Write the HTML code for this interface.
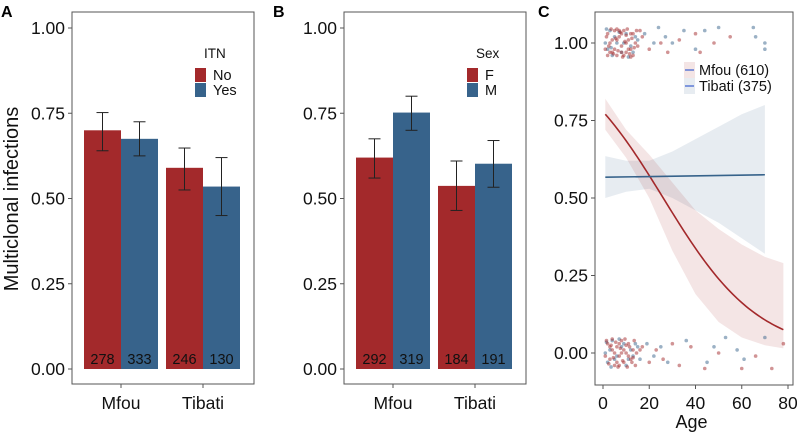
<!DOCTYPE html>
<html><head><meta charset="utf-8"><style>
body{margin:0;background:#fff}
svg{font-family:"Liberation Sans",sans-serif}
</style></head><body>
<svg id="chart" width="797" height="433" viewBox="0 0 797 433" xmlns="http://www.w3.org/2000/svg"></svg>
<script>
const groups=["Mfou","Tibati"];
const itnLabels=["No","Yes"];
const itnValues=[[0.70,0.675],[0.59,0.535]];
const itnLow=[[0.64,0.625],[0.525,0.45]];
const itnHigh=[[0.752,0.725],[0.648,0.62]];
const itnN=[[278,333],[246,130]];
const sexLabels=["F","M"];
const sexValues=[[0.62,0.752],[0.537,0.602]];
const sexLow=[[0.56,0.70],[0.465,0.533]];
const sexHigh=[[0.675,0.80],[0.61,0.67]];
const sexN=[[292,319],[184,191]];
const yTicks=["0.00","0.25","0.50","0.75","1.00"];
const ageTicks=[0,20,40,60,80];
const mfouCoef=[1.258,-0.0483];
const mfouRibAge=[1,10,20,30,40,50,60,70,78];
const mfouRibLo=[0.72,0.63,0.50,0.33,0.19,0.10,0.05,0.025,0.015];
const mfouRibHi=[0.82,0.72,0.64,0.55,0.46,0.40,0.35,0.31,0.29];
const tibLine=[[1,0.567],[70,0.575]];
const tibRibAge=[1,10,20,30,40,50,60,70];
const tibRibLo=[0.50,0.52,0.53,0.50,0.46,0.42,0.37,0.32];
const tibRibHi=[0.635,0.62,0.62,0.65,0.69,0.73,0.77,0.80];
const mfouPts1=[[2,1.03],[3,0.97],[4,1.01],[5,1.04],[6,0.96],[7,1.02],[8,0.99],[9,1.04],[10,0.97],[11,1.01],[12,1.03],[13,0.96],[14,1.0],[3,1.0],[5,0.98],[7,1.04],[9,0.96],[11,0.98],[2,0.96],[6,1.01],[8,1.03],[10,1.0],[12,0.98],[4,0.97],[13,1.03],[1.5,1.02],[2.5,0.99],[3.5,1.045],[4.5,0.965],[5.5,1.015],[6.5,0.975],[7.5,1.035],[8.5,0.955],[9.5,1.005],[10.5,1.045],[11.5,0.965],[12.5,1.015],[13.5,0.985],[14.5,1.04],[1,0.98],[6,1.045],[8,0.97],[10,1.025],[12,0.955],[15,0.99],[16,1.04],[17,1.02],[20,0.98],[25,1.0],[28,0.97],[33,1.01],[40,1.03],[42,0.97],[48,1.0],[55,1.02]];
const mfouPts0=[[2,0.03],[3,-0.02],[4,0.01],[5,-0.04],[6,0.02],[7,-0.01],[8,0.04],[9,-0.03],[10,0.0],[11,0.03],[12,-0.02],[13,0.01],[14,-0.04],[3,0.02],[5,0.0],[7,0.03],[9,0.01],[11,-0.01],[6,-0.03],[8,0.0],[1.5,0.04],[2.5,-0.035],[3.5,0.025],[4.5,-0.015],[5.5,0.035],[6.5,-0.045],[7.5,0.015],[8.5,-0.025],[9.5,0.045],[10.5,-0.045],[11.5,0.02],[12.5,-0.03],[13.5,0.04],[14.5,0.0],[1,-0.01],[4,0.045],[7,-0.04],[10,0.025],[13,-0.015],[16,0.01],[17,0.02],[20,-0.03],[23,0.01],[26,-0.02],[30,0.03],[33,-0.04],[38,0.02],[44,-0.05],[50,0.0],[60,-0.05],[66,-0.01],[73,-0.05],[78,0.03]];
const tibPts1=[[1,1.0],[3,1.04],[4,0.96],[6,1.0],[8,0.97],[10,1.03],[12,0.99],[14,1.02],[2,0.98],[5,1.02],[9,1.0],[13,0.97],[1.5,1.045],[3.5,0.985],[7,1.035],[11,0.955],[15,1.01],[18,1.03],[22,1.0],[24,1.05],[27,1.02],[30,1.0],[35,1.04],[40,0.98],[44,1.04],[50,1.05],[65,1.05],[66,1.02],[70,1.0],[70,0.98]];
const tibPts0=[[1,0.0],[2,-0.03],[4,0.04],[6,-0.01],[8,0.02],[10,-0.04],[12,0.01],[14,0.03],[3,0.01],[5,-0.02],[9,0.03],[13,-0.01],[1.5,0.035],[3.5,-0.045],[7,0.045],[11,-0.02],[15,0.02],[16,-0.02],[19,0.03],[22,-0.01],[25,0.02],[28,-0.03],[36,0.04],[45,-0.03],[48,0.02],[53,0.05],[58,0.01],[61,-0.02],[70,0.05]];
const RED="#a3292b",BLUE="#37638b";
const svg=document.getElementById('chart');
const NS="http://www.w3.org/2000/svg";
function mk(tag,attrs,parent,txt){const e=document.createElementNS(NS,tag);for(const k in attrs)e.setAttribute(k,attrs[k]);if(txt!==undefined)e.textContent=txt;(parent||svg).appendChild(e);return e;}

function barPanel(px0,label,legTitle,legLabels,vals,lo,hi,ns,nameKey){
  const g=mk('g',{});
  
  
  const left=px0,right=px0+182,top=12,bottom=384;
  const y=v=>369-v*341;
  const gc=[px0+49,px0+131],bw=37;
  const box=mk('rect',{x:left,y:top,width:right-left,height:bottom-top,fill:'none',stroke:'#555','stroke-width':1},g);
  
  
  const pl=mk('text',{x:px0-71,y:17,'font-size':16,'font-weight':'bold'},g,label);
  
  
  yTicks.forEach((t,i)=>{const v=i*0.25;
    mk('line',{x1:left-4,x2:left,y1:y(v),y2:y(v),stroke:'#555'},g);
    const tl=mk('text',{x:left-7,y:y(v)+6,'font-size':17.5,'text-anchor':'end',fill:'#111'},g,t);
    
    });
  groups.forEach((gr,gi)=>{
    mk('line',{x1:gc[gi],x2:gc[gi],y1:bottom,y2:bottom+4,stroke:'#555'},g);
    const xl=mk('text',{x:gc[gi],y:409,'font-size':17.5,'text-anchor':'middle',fill:'#111'},g,gr);
    
    
    [0,1].forEach(k=>{
      const x0=gc[gi]-bw+k*bw;
      const b=mk('rect',{x:x0,y:y(vals[gi][k]),width:bw,height:y(0)-y(vals[gi][k]),fill:k?BLUE:RED},g);
      
      
      const cx=x0+bw/2;
      mk('line',{x1:cx,x2:cx,y1:y(hi[gi][k]),y2:y(lo[gi][k]),stroke:'#222'},g);
      mk('line',{x1:cx-6,x2:cx+6,y1:y(hi[gi][k]),y2:y(hi[gi][k]),stroke:'#222'},g);
      mk('line',{x1:cx-6,x2:cx+6,y1:y(lo[gi][k]),y2:y(lo[gi][k]),stroke:'#222'},g);
      const nt=mk('text',{x:cx,y:364,'font-size':14.5,'text-anchor':'middle',fill:'#111'},g,ns[gi][k]);
      
      
    });
  });
  const lt=mk('text',{x:px0+132,y:58,'font-size':13.5,fill:'#111'},g,legTitle);
  
  
  legLabels.forEach((l,k)=>{
    const r=mk('rect',{x:px0+123,y:68+k*15,width:11,height:14,fill:k?BLUE:RED},g);
    
    
    const t=mk('text',{x:px0+141,y:80+k*15,'font-size':14.5,fill:'#111'},g,l);
    
    
  });
}
barPanel(72,'A','ITN',itnLabels,itnValues,itnLow,itnHigh,itnN,'itn');
barPanel(344,'B','Sex',sexLabels,sexValues,sexLow,sexHigh,sexN,'sex');

const yt=mk('text',{x:0,y:0,'font-size':20,'text-anchor':'middle',fill:'#111',transform:'translate(18,199) rotate(-90)'},svg,'Multiclonal infections');



const gC=mk('g',{});


const cx=a=>603+a*(185/80), cy=v=>353-v*310;
const cb=mk('rect',{x:595,y:12,width:198,height:373,fill:'none',stroke:'#555'},gC);


const pc=mk('text',{x:538,y:17,'font-size':16,'font-weight':'bold'},gC,'C');


yTicks.forEach((t,i)=>{const v=i*0.25;
  mk('line',{x1:591,x2:595,y1:cy(v),y2:cy(v),stroke:'#555'},gC);
  const tl=mk('text',{x:588,y:cy(v)+6,'font-size':17.5,'text-anchor':'end',fill:'#111'},gC,t);
  
  });
ageTicks.forEach(a=>{
  mk('line',{x1:cx(a),x2:cx(a),y1:385,y2:389,stroke:'#555'},gC);
  const tl=mk('text',{x:cx(a),y:409,'font-size':17.5,'text-anchor':'middle',fill:'#111'},gC,a);
  
  });
const at=mk('text',{x:cx(40)-4,y:428,'font-size':18,'text-anchor':'middle',fill:'#111'},gC,'Age');


function ribbon(ages,lo,hi,fill,name){
  let d='M'+ages.map((a,i)=>cx(a)+','+cy(hi[i])).join('L');
  for(let i=ages.length-1;i>=0;i--)d+='L'+cx(ages[i])+','+cy(lo[i]);
  const p=mk('path',{d:d+'Z',fill:fill},gC);
  
  
}
ribbon(tibRibAge,tibRibLo,tibRibHi,'rgba(55,99,139,0.12)','tibati-ci-ribbon');
ribbon(mfouRibAge,mfouRibLo,mfouRibHi,'rgba(163,41,43,0.12)','mfou-ci-ribbon');
function pts(arr,col,name){arr.forEach(p=>{
  const c=mk('circle',{cx:cx(p[0]),cy:cy(p[1]),r:1.8,fill:col,'fill-opacity':0.5},gC);
  
  });}
pts(tibPts1,BLUE,'tibati-point');pts(tibPts0,BLUE,'tibati-point');
pts(mfouPts1,RED,'mfou-point');pts(mfouPts0,RED,'mfou-point');
let md='';for(let a=1;a<=78;a+=1){const p=1/(1+Math.exp(-(mfouCoef[0]+mfouCoef[1]*a)));md+=(a===1?'M':'L')+cx(a)+','+cy(p);}
const ml=mk('path',{d:md,fill:'none',stroke:RED,'stroke-width':1.6},gC);


const tl=mk('line',{x1:cx(tibLine[0][0]),y1:cy(tibLine[0][1]),x2:cx(tibLine[1][0]),y2:cy(tibLine[1][1]),stroke:BLUE,'stroke-width':1.6},gC);


[['Mfou (610)','rgba(163,41,43,0.12)'],['Tibati (375)','rgba(55,99,139,0.12)']].forEach((l,k)=>{
  mk('rect',{x:684,y:62+k*16,width:11,height:16,fill:l[1]},gC);
  mk('line',{x1:685,x2:694,y1:70+k*16,y2:70+k*16,stroke:'#3a5fd0','stroke-width':1.2},gC);
  const t=mk('text',{x:699,y:75+k*16,'font-size':14.5,fill:'#111'},gC,l[0]);
  
  
});
</script>
</body></html>
